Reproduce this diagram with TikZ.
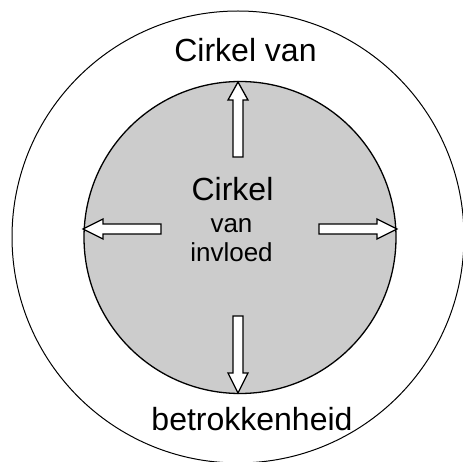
\documentclass[tikz,border=0pt]{standalone}
\usepackage{fontspec}
\setmainfont{Liberation Sans}
\tikzset{
  outercircle/.style={circle, draw=black, line width=1pt, minimum size=452pt, inner sep=0pt},
  innercircle/.style={circle, draw=black, fill=fillgray, line width=1.3pt, minimum size=312pt, inner sep=0pt},
  bigtext/.style={anchor=base, inner sep=0pt, font=\fontsize{32}{36}\selectfont},
  smalltext/.style={anchor=base, inner sep=0pt, font=\fontsize{26}{30}\selectfont},
  blockarrow/.style={draw=black, fill=white, line width=1.3pt, line join=miter},
}
\definecolor{fillgray}{HTML}{CCCCCC}
\newcommand{\drawblockarrow}[4]{%
  \begin{scope}[shift={(#1)}, rotate=#2]
    \draw[blockarrow] (0,0) -- (-#3,10) -- (-#3,5) -- (-#4,5) -- (-#4,-5) -- (-#3,-5) -- (-#3,-10) -- cycle;
  \end{scope}}
\begin{document}
\begin{tikzpicture}[x=1pt, y=-1pt]
  \useasboundingbox (0,0) rectangle (463,462);
  \node[outercircle] (outer) at (238,237) {};
  \node[innercircle] (inner) at (240,237.5) {};
  \coordinate (tipN) at (238,82);
  \coordinate (tipW) at (83,229);
  \coordinate (tipE) at (397,229);
  \coordinate (tipS) at (238,393);
  \drawblockarrow{tipN}{90}{18}{75}
  \drawblockarrow{tipW}{180}{20}{78}
  \drawblockarrow{tipE}{0}{20}{78}
  \drawblockarrow{tipS}{270}{20}{77}
  \node[bigtext] (outertop) at (245.5,62) {Cirkel van};
  \node[bigtext] (outerbottom) at (252,430) {betrokkenheid};
  \node[bigtext] (innertop) at (232.5,201) {Cirkel};
  \node[smalltext] (innermid) at (231.5,232.5) {van};
  \node[smalltext] (innerbottom) at (231.5,261.5) {invloed};
\end{tikzpicture}
\end{document}
